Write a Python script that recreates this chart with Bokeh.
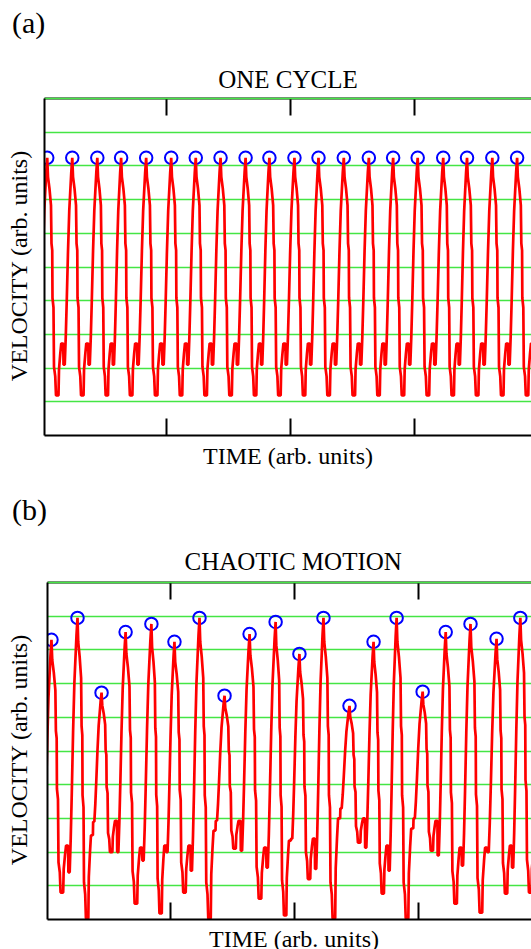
from bokeh.plotting import figure
from bokeh.models import (Range1d, LinearAxis, FixedTicker, Title, Div,
                          CustomLabelingPolicy)
from bokeh.layouts import column, row
from bokeh.embed import file_html
from bokeh.resources import INLINE

# ---------------- data ----------------
X_TICKS = [5, 10, 15]
Y_GRID = [1, 2, 3, 4, 5, 6, 7, 8, 9, 10]

# (a) ONE CYCLE: peak times, peak heights, trough after each peak,
#     shoulder top and shoulder dip before the next rise
PEAK_T_A = [-0.80, 0.19, 1.20, 2.21, 3.17, 4.18, 5.19, 6.18, 7.18, 8.19, 9.15,
            10.16, 11.13, 12.15, 13.16, 14.14, 15.13, 16.16, 17.12, 18.14, 19.14, 20.14]
PEAK_V_A = [8.24, 8.24, 8.24, 8.24, 8.24, 8.24, 8.24, 8.24, 8.24, 8.24, 8.24,
            8.24, 8.24, 8.24, 8.24, 8.24, 8.24, 8.24, 8.24, 8.24, 8.24, 8.24]
TROUGH_A = [1.19, 1.19, 1.19, 1.19, 1.19, 1.19, 1.19, 1.19, 1.19, 1.19, 1.19,
            1.19, 1.19, 1.19, 1.19, 1.19, 1.19, 1.19, 1.19, 1.19, 1.19]
SH_HI_A = [2.73, 2.73, 2.73, 2.73, 2.73, 2.73, 2.73, 2.73, 2.73, 2.73, 2.73,
           2.73, 2.73, 2.73, 2.73, 2.73, 2.73, 2.73, 2.73, 2.73, 2.73]
SH_LO_A = [2.10, 2.10, 2.10, 2.10, 2.10, 2.10, 2.10, 2.10, 2.10, 2.10, 2.10,
           2.10, 2.10, 2.10, 2.10, 2.10, 2.10, 2.10, 2.10, 2.10, 2.10]

# (b) CHAOTIC MOTION
PEAK_T_B = [-0.80, 0.20, 1.25, 2.22, 3.19, 4.23, 5.16, 6.17, 7.18, 8.19, 9.24,
            10.20, 11.17, 12.22, 13.19, 14.12, 15.17, 16.10, 17.10, 18.15, 19.11, 20.10]
PEAK_V_B = [8.50, 8.30, 8.95, 6.73, 8.53, 8.77, 8.24, 8.95, 6.64, 8.47, 8.83,
            7.88, 8.95, 6.34, 8.24, 8.95, 6.76, 8.53, 8.77, 8.33, 8.95, 8.50]
TROUGH_B = [0.60, 0.80, 0.03, 2.00, 0.47, 0.18, 0.80, 0.03, 2.10, 0.62, 0.12,
            1.20, 0.03, 2.28, 0.77, 0.03, 2.04, 0.47, 0.20, 0.77, 0.80]
SH_HI_B = [2.20, 2.19, 2.50, 2.93, 2.13, 2.19, 2.19, 2.64, 2.93, 2.13, 2.34,
           2.40, 3.00, 3.00, 2.19, 2.70, 2.93, 2.13, 2.13, 2.19, 2.20]
SH_LO_B = [1.60, 1.40, 2.90, 2.00, 1.75, 2.00, 1.45, 2.93, 2.04, 1.54, 2.40,
           1.50, 3.30, 2.13, 1.45, 3.00, 1.90, 1.60, 2.00, 1.54, 1.60]

# shape of one stroke (fractions of the cycle)
DESC_DT = [0.00, 0.03, 0.09, 0.15, 0.17, 0.20, 0.21, 0.25, 0.27, 0.32, 0.35, 0.45]
DESC_FR = [1.00, 0.92, 0.87, 0.80, 0.64, 0.61, 0.41, 0.37, 0.12, 0.08, 0.00, 0.00]
SHLD_DT = [0.47, 0.52, 0.56, 0.64, 0.65, 0.70]
ASC_DT = [-0.26, -0.22, -0.17, -0.12, -0.04]
ASC_FR = [0.135, 0.31, 0.55, 0.745, 0.93]


def waveform(pt, pv, tr, hi, lo):
    xs, ys = [], []
    for i in range(len(pt) - 1):
        t0, t1 = pt[i], pt[i + 1]
        d = t1 - t0
        h, hn, m, a, b = pv[i], pv[i + 1], tr[i], hi[i], lo[i]
        for dt, f in zip(DESC_DT, DESC_FR):
            xs.append(t0 + dt * d)
            ys.append(m + f * (h - m))
        for dt, y in zip(SHLD_DT, [m + 0.5 * (a - m), m + 0.8 * (a - m), a, a, b, b]):
            xs.append(t0 + dt * d)
            ys.append(y)
        for dt, f in zip(ASC_DT, ASC_FR):
            xs.append(t1 + dt * d)
            ys.append(b + f * (hn - b))
    xs.append(pt[-1])
    ys.append(pv[-1])
    return xs, ys


FONT = "Liberation Serif"
GREEN = "#44e544"


def no_labels():
    return CustomLabelingPolicy(code="return []")


def bare_axis(ax, color, width):
    ax.ticker = FixedTicker(ticks=[])
    ax.major_label_text_font_size = "0px"
    ax.major_label_policy = no_labels()
    ax.major_label_standoff = 0
    ax.major_tick_in = 0
    ax.major_tick_out = 0
    ax.minor_tick_in = 0
    ax.minor_tick_out = 0
    ax.minor_tick_line_color = None
    ax.axis_line_width = width
    ax.axis_line_color = color


def tick_axis(ax, minor_out):
    ax.ticker = FixedTicker(ticks=X_TICKS)
    ax.major_label_text_font_size = "0px"
    ax.major_label_policy = no_labels()
    ax.major_label_standoff = 0
    ax.major_tick_in = 17
    ax.major_tick_out = 0
    ax.major_tick_line_width = 2
    ax.major_tick_line_color = "black"
    ax.minor_tick_out = minor_out
    ax.minor_tick_in = 0
    ax.minor_tick_line_color = None
    ax.axis_line_width = 2
    ax.axis_line_color = "black"


def make_panel(width, height, top, bottom, x0, x1, xs, ys, pt, pv,
               title, title_standoff, title_offset, xlabel):
    p = figure(width=width, height=height, x_range=Range1d(x0, x1), y_range=Range1d(0, 10),
               output_backend="svg", toolbar_location=None,
               min_border_left=1, min_border_right=0,
               min_border_top=top, min_border_bottom=bottom)
    p.outline_line_color = None
    p.background_fill_color = "white"
    p.border_fill_color = "white"

    p.xgrid.visible = False
    p.ygrid.ticker = FixedTicker(ticks=Y_GRID)
    p.ygrid.grid_line_color = GREEN
    p.ygrid.grid_line_width = 1.6

    bare_axis(p.yaxis[0], "black", 2)

    # bottom axis
    xa = p.xaxis[0]
    tick_axis(xa, 4 if xlabel else 0)
    if xlabel:
        xa.axis_label = "TIME (arb. units)"
        xa.axis_label_text_font = FONT
        xa.axis_label_text_font_size = "24px"
        xa.axis_label_text_font_style = "normal"
        xa.axis_label_text_color = "black"
        xa.axis_label_standoff = 7

    # top axis (black, inward ticks) and the green line just above it
    top_axis = LinearAxis()
    tick_axis(top_axis, 3)
    p.add_layout(top_axis, "above")
    green_axis = LinearAxis()
    bare_axis(green_axis, GREEN, 1.6)
    p.add_layout(green_axis, "above")

    if title_offset is None:
        t = Title(text=title, align="center", vertical_align="bottom",
                  standoff=title_standoff)
    else:
        t = Title(text=title, align="left", offset=title_offset,
                  vertical_align="bottom", standoff=title_standoff)
    t.text_font = FONT
    t.text_font_size = "25px"
    t.text_font_style = "normal"
    t.text_color = "black"
    p.add_layout(t, "above")

    p.scatter(pt, pv, marker="circle", size=12.5, fill_color=None,
              line_color="#0000ff", line_width=2)
    p.line(xs, ys, line_color="#ff0000", line_width=2.7)
    return p


def text_div(text, width, height, left, top, size, box_width=None):
    w = "" if box_width is None else f"width:{box_width}px;text-align:center;"
    html = (f'<div style="position:relative;width:{width}px;height:{height}px;">'
            f'<span style="position:absolute;left:{left}px;top:{top}px;{w}'
            f"font-family:'{FONT}';font-size:{size}px;line-height:{size}px;"
            f'color:black;white-space:nowrap;">{text}</span></div>')
    return Div(text=html, width=width, height=height, margin=0)


def ylabel_div(width, height, cx, cy):
    html = (f'<div style="position:relative;width:{width}px;height:{height}px;">'
            f'<span style="position:absolute;left:{cx}px;top:{cy}px;'
            f'transform:translate(-50%,-50%) rotate(-90deg);'
            f"font-family:'{FONT}';font-size:24px;line-height:24px;"
            f'color:black;white-space:nowrap;">VELOCITY (arb. units)</span></div>')
    return Div(text=html, width=width, height=height, margin=0)


xa_, ya_ = waveform(PEAK_T_A, PEAK_V_A, TROUGH_A, SH_HI_A, SH_LO_A)
xb_, yb_ = waveform(PEAK_T_B, PEAK_V_B, TROUGH_B, SH_HI_B, SH_LO_B)

# (a): div 0-48, row 48-484 (frame 98-435), frame left at 44
div_a = text_div("(a)", 531, 48, 12, 8, 30)
pa = make_panel(488, 436, 50, 49, 0.08, 19.72, xa_, ya_, PEAK_T_A, PEAK_V_A,
                "ONE CYCLE", 11, None, True)
row_a = row(ylabel_div(43, 436, 19, 218), pa, spacing=0)

# (b): div 484-528, row 528-922 (frame 582-919), frame left at 47
div_b = text_div("(b)", 531, 44, 12, 11, 30)
pb = make_panel(485, 394, 54, 3, 0.04, 19.56, xb_, yb_, PEAK_T_B, PEAK_V_B,
                "CHAOTIC MOTION", 15, 137, False)
row_b = row(ylabel_div(46, 394, 19, 222), pb, spacing=0)
div_tb = text_div("TIME (arb. units)", 531, 27, 124, 5, 24, box_width=340)

layout = column(div_a, row_a, div_b, row_b, div_tb, spacing=0)
open("out.html", "w").write(file_html(layout, INLINE))
